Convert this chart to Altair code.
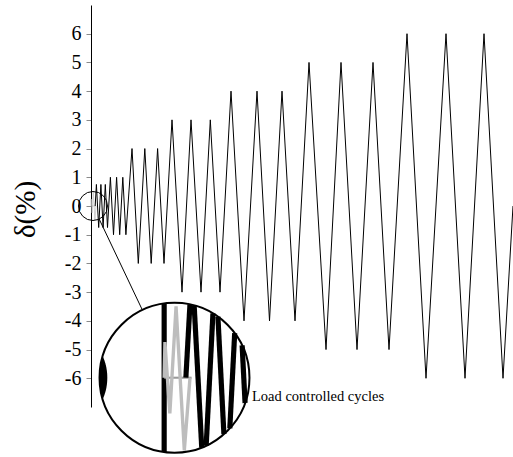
import math
import numpy as np
import pandas as pd
import altair as alt

# ---------------- data ----------------
# displacement history (time in arbitrary steps, drift ratio in %)
black_t = [4.2, 5.4, 7.7, 9.9, 12.1, 14.3, 16.5, 19.4, 22.5, 25.6, 28.7, 31.8, 34.9,
           41.0, 47.3, 53.8, 60.2, 66.6, 73.0, 81.0, 91.0, 100.0, 110.0, 119.3, 129.0,
           140.0, 153.0, 166.0, 178.5, 191.0, 204.0, 218.0, 235.0, 250.0, 266.0, 282.0, 298.0,
           316.0, 335.0, 355.0, 374.0, 393.0, 412.0, 422.0]
black_v = [0, 0.75, -0.75, 0.75, -0.75, 0.75, -0.75, 1, -1, 1, -1, 1, -1,
           2, -2, 2, -2, 2, -2, 3, -3, 3, -3, 3, -3,
           4, -4, 4, -4, 4, -4, 5, -5, 5, -5, 5, -5,
           6, -6, 6, -6, 6, -6, 0]
# load controlled cycles (grey)
gray_t = [0.0, 0.15, 1.1, 2.3, 3.9, 5.0]
gray_v = [0, 0.24, -0.24, 0.48, -0.49, 0]
flat_t = [0.0, 5.3]
flat_v = [0, 0]
axis_t = [0.0, 0.0]
axis_v = [-7, 7]
tick_values = list(range(-6, 7))
note_text = "Load controlled cycles"

SERIF = "Liberation Serif"

# ---------------- geometry of the chart / zoom inset ----------------
W, H = 422, 402
XDOM = [0, 422]
YDOM = [-7, 7]
XPX = W / (XDOM[1] - XDOM[0])
YPX = H / (YDOM[1] - YDOM[0])

T0, V0 = 2.0, 0.0          # centre of zoom window (data)
R_SMALL = 14.5             # px
MAG = 5.17
TC, VC = 83.5, -5.98       # centre of inset (data)
R_BIG = R_SMALL * MAG
RX, RY = R_SMALL / XPX, R_SMALL / YPX


def clip_polyline(ts, vs):
    pieces, cur = [], []
    for k in range(len(ts) - 1):
        at, av, bt, bv = ts[k], vs[k], ts[k + 1], vs[k + 1]
        ax, ay = (at - T0) / RX, (av - V0) / RY
        bx, by = (bt - T0) / RX, (bv - V0) / RY
        dx, dy = bx - ax, by - ay
        A = dx * dx + dy * dy
        B = 2 * (ax * dx + ay * dy)
        C = ax * ax + ay * ay - 1
        disc = B * B - 4 * A * C if A > 0 else -1
        if disc <= 0:
            if cur:
                pieces.append(cur)
            cur = []
            continue
        s1 = (-B - math.sqrt(disc)) / (2 * A)
        s2 = (-B + math.sqrt(disc)) / (2 * A)
        lo, hi = max(0.0, s1), min(1.0, s2)
        if lo >= hi:
            if cur:
                pieces.append(cur)
            cur = []
            continue
        p_lo = (at + lo * (bt - at), av + lo * (bv - av))
        p_hi = (at + hi * (bt - at), av + hi * (bv - av))
        if cur and lo == 0.0:
            cur.append(p_hi)
        else:
            if cur:
                pieces.append(cur)
            cur = [p_lo, p_hi]
        if hi < 1.0:
            pieces.append(cur)
            cur = []
    if cur:
        pieces.append(cur)
    rows = []
    for pid, pc in enumerate(pieces):
        for i, (t, v) in enumerate(pc):
            rows.append({"t": TC + (t - T0) * MAG, "v": VC + (v - V0) * MAG,
                         "piece": pid, "i": i})
    return pd.DataFrame(rows, columns=["t", "v", "piece", "i"])


main_df = pd.DataFrame({"t": black_t, "v": black_v, "i": range(len(black_t))})
gray_df = pd.DataFrame({"t": gray_t, "v": gray_v, "i": range(len(gray_t))})
flat_df = pd.DataFrame({"t": flat_t, "v": flat_v, "i": range(len(flat_t))})

ins_black = clip_polyline(black_t, black_v)
ins_gray = clip_polyline(gray_t, gray_v)
ins_flat = clip_polyline(flat_t, flat_v)
ins_axis = clip_polyline(axis_t, axis_v)

# connector between the circles (along line of centres)
dxp = (TC - T0) * XPX
dyp = -(VC - V0) * YPX
L = math.hypot(dxp, dyp)
ux, uy = dxp / L, dyp / L
conn_df = pd.DataFrame({
    "t": [T0 + R_SMALL * ux / XPX, TC - R_BIG * ux / XPX],
    "v": [V0 - R_SMALL * uy / YPX, VC + R_BIG * uy / YPX],
    "i": [0, 1]})

# magnified right edge of the "0" tick label inside the inset
g_t, g_a, g_b = -15.3, 4.3, 6.8      # glyph centre (data t) and half sizes (px)
gx = (TC - XDOM[0]) * XPX + (g_t - T0) * XPX * MAG
cxp = (TC - XDOM[0]) * XPX
lens = []
for dyv in np.linspace(-g_b * MAG, g_b * MAG, 120):
    xl = cxp - math.sqrt(max(R_BIG ** 2 - dyv ** 2, 0))
    xr = gx + g_a * MAG * math.sqrt(max(1 - (dyv / (g_b * MAG)) ** 2, 0))
    if xr > xl:
        lens.append({"v": VC - dyv / YPX, "t": xl / XPX + XDOM[0], "t2": xr / XPX + XDOM[0]})
lens_df = pd.DataFrame(lens)

circ_small = pd.DataFrame({"t": [T0], "v": [V0]})
circ_big = pd.DataFrame({"t": [TC], "v": [VC]})
note_df = pd.DataFrame({"t": [161.0], "v": [-6.65], "label": [note_text]})

# ---------------- encodings ----------------
yaxis = alt.Axis(values=tick_values, labelExpr="'' + datum.value", title="δ(%)",
                 labelFont=SERIF, titleFont=SERIF, labelFontSize=20, titleFontSize=29,
                 tickSize=5, tickColor="#8a8a8a", domainColor="black", domainWidth=1,
                 labelColor="black", labelPadding=5, grid=False,
                 titleFontWeight="normal", titleColor="black",
                 titleX=-66, titleY=204, titleAngle=270, titleAlign="center",
                 titleBaseline="middle")
X = alt.X("t:Q", scale=alt.Scale(domain=XDOM, nice=False, zero=False), axis=None)
Y = alt.Y("v:Q", scale=alt.Scale(domain=YDOM, nice=False, zero=False), axis=yaxis)

main = alt.Chart(main_df).mark_line(color="black", strokeWidth=1).encode(x=X, y=Y, order="i:Q")
gray = alt.Chart(gray_df).mark_line(color="#bdbdbd", strokeWidth=0.7).encode(x=X, y=Y, order="i:Q")
flat = alt.Chart(flat_df).mark_line(color="#9a9a9a", strokeWidth=0.4).encode(x=X, y=Y, order="i:Q")

small = alt.Chart(circ_small).mark_point(shape="circle", filled=False, color="black",
                                         strokeWidth=1, opacity=1).encode(
    x=X, y=Y, size=alt.value((2 * R_SMALL) ** 2))
conn = alt.Chart(conn_df).mark_line(color="black", strokeWidth=1).encode(x=X, y=Y, order="i:Q")
big_fill = alt.Chart(circ_big).mark_point(shape="circle", filled=True, fill="white",
                                          stroke="white", opacity=1, fillOpacity=1).encode(
    x=X, y=Y, size=alt.value((2 * R_BIG) ** 2))
lens_l = alt.Chart(lens_df).mark_area(orient="horizontal", color="black").encode(
    y=Y, x=X, x2="t2:Q")
in_axis = alt.Chart(ins_axis).mark_line(color="black", strokeWidth=1 * MAG).encode(
    x=X, y=Y, detail="piece:N", order="i:Q")
in_flat = alt.Chart(ins_flat).mark_line(color="#9a9a9a", strokeWidth=0.4 * MAG).encode(
    x=X, y=Y, detail="piece:N", order="i:Q")
in_gray = alt.Chart(ins_gray).mark_line(color="#bdbdbd", strokeWidth=0.65 * MAG).encode(
    x=X, y=Y, detail="piece:N", order="i:Q")
in_black = alt.Chart(ins_black).mark_line(color="black", strokeWidth=1 * MAG).encode(
    x=X, y=Y, detail="piece:N", order="i:Q")
big_ring = alt.Chart(circ_big).mark_point(shape="circle", filled=False, color="black",
                                          strokeWidth=2, opacity=1).encode(
    x=X, y=Y, size=alt.value((2 * R_BIG) ** 2))
note = alt.Chart(note_df).mark_text(align="left", baseline="middle", font=SERIF,
                                    fontSize=14.5, color="black").encode(
    x=X, y=Y, text="label:N")

chart = alt.layer(
    gray, flat, main, small, conn, big_fill, lens_l, in_axis, in_flat, in_gray, in_black,
    big_ring, note
).properties(
    width=W, height=H,
    autosize=alt.AutoSizeParams(type="none"),
    padding={"left": 91, "top": 5, "right": 0, "bottom": 50},
    background="white",
).configure_view(stroke=None).configure_axisY(
    labelFont=SERIF, titleFont=SERIF
)

chart.save("out.html", embed_options={"renderer": "svg", "actions": False})
